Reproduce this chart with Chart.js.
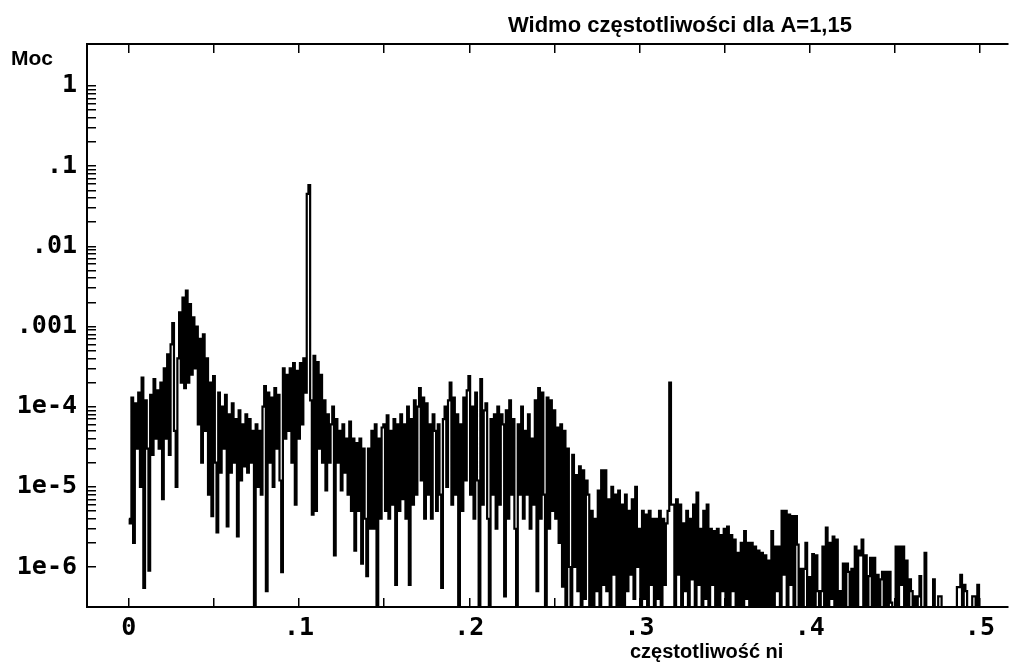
<!DOCTYPE html>
<html lang="pl">
<head>
<meta charset="utf-8">
<title>Widmo częstotliwości dla A=1,15</title>
<script src="https://cdn.jsdelivr.net/npm/chart.js@4.4.1/dist/chart.umd.min.js"></script>
<style>
  html, body { margin: 0; padding: 0; background: #fff; }
  #wrap { position: relative; width: 1010px; height: 666px; }
</style>
</head>
<body>
<div id="wrap"><canvas id="spectrum"></canvas></div>
<script>
const chartTitle = 'Widmo częstotliwości dla A=1,15';
const yTitle = 'Moc';
const xTitle = 'częstotliwość ni';

// frequency resolution of the spectrum (one value per bin, starting at 0)
const binWidth = 0.001;

// power, bins 0..99 (f = 0.000 .. 0.099)
const powerBand0 = [
  4e-6, 3.5e-6, 1.3e-4, 2e-6, 1.1e-4, 3e-5, 1.5e-4, 1e-5, 2.3e-4, 5.5e-7,
  1.2e-4, 3e-5, 9e-7, 1.4e-4, 2.5e-5, 2.2e-4, 4e-5, 1.6e-4, 3e-5, 2e-4,
  7e-6, 3e-4, 4e-5, 4.5e-4, 2.5e-5, 6e-4, 1.1e-3, 5e-5, 1e-5, 4e-4,
  1.5e-3, 2e-4, 2.3e-3, 1.7e-4, 2.8e-3, 2e-4, 1.9e-3, 2.5e-4, 1.3e-3, 3e-4,
  1e-3, 6e-5, 7e-4, 2e-5, 8e-4, 5e-5, 4e-4, 8e-6, 2e-4, 4.3e-6,
  2.4e-4, 2e-5, 2.7e-6, 1.5e-4, 1.5e-5, 1e-4, 3e-5, 1.4e-4, 3.2e-6, 8e-5,
  1.5e-5, 1.1e-4, 2e-5, 7e-5, 2.4e-6, 9e-5, 1.2e-5, 6e-5, 1.8e-5, 8e-5,
  1.5e-5, 7e-5, 2e-5, 5e-5, 1e-7, 6e-5, 1e-5, 5e-5, 8e-6, 1e-4,
  1.8e-4, 5e-7, 1.5e-4, 2e-5, 1.3e-4, 1e-5, 1.7e-4, 3e-5, 1.4e-4, 1.2e-5,
  8.6e-7, 3e-4, 4e-5, 2.5e-4, 5e-5, 3e-4, 2e-5, 3.5e-4, 6e-6, 2.8e-4
];
// bins 100..199
const powerBand1 = [
  4e-5, 3.5e-4, 6e-5, 4e-4, 1.5e-4, 0.045, 0.058, 1.2e-4, 4.5e-6, 4.3e-4,
  5e-6, 3.6e-4, 3e-5, 2.5e-4, 2e-5, 1.2e-4, 9e-6, 8e-5, 2e-5, 6e-5,
  1e-4, 1.4e-6, 7e-5, 2e-5, 5e-5, 9e-6, 6e-5, 1.5e-5, 4e-5, 8e-6,
  6.5e-5, 5e-6, 4e-5, 1.6e-6, 3.5e-5, 5e-6, 4e-5, 1.1e-6, 3e-5, 4e-6,
  7.7e-7, 3e-5, 3e-6, 5e-5, 3e-6, 6e-5, 1e-7, 4e-5, 4e-6, 5.5e-5,
  6e-5, 5e-6, 7.8e-5, 4e-6, 5e-5, 6e-6, 7e-5, 6e-7, 6e-5, 5e-6,
  8e-5, 7e-6, 6e-5, 4e-6, 1e-4, 6e-7, 7e-5, 6e-6, 1.2e-4, 8e-6,
  1e-4, 1.7e-4, 1.2e-5, 1.3e-4, 4e-6, 1.1e-4, 8e-6, 6e-5, 4e-6, 8e-5,
  5e-5, 5e-6, 6e-5, 8e-6, 5.5e-7, 7e-5, 1e-4, 1e-5, 1.2e-4, 2e-4,
  6e-6, 1.3e-4, 8e-6, 8e-5, 1e-7, 6e-5, 5e-6, 1.3e-4, 1.2e-5, 1.6e-4
];
// bins 200..299
const powerBand2 = [
  2.4e-4, 8e-6, 1e-4, 4e-6, 1.5e-4, 1.2e-5, 1e-7, 2.2e-4, 6e-6, 9e-5,
  1.1e-4, 4e-6, 1e-7, 7e-5, 8e-6, 8e-5, 3e-6, 1e-4, 6e-6, 8e-5,
  6e-5, 4.3e-7, 9e-5, 4e-6, 1.2e-4, 8e-6, 7e-5, 3e-6, 1e-7, 6e-5,
  8e-6, 1e-4, 4e-6, 5e-5, 8e-6, 8e-5, 3e-6, 4e-5, 6e-6, 1.2e-4,
  5e-7, 1.7e-4, 4e-6, 1.5e-4, 8e-6, 1e-7, 1.3e-4, 3e-6, 1.2e-4, 5e-6,
  9e-5, 4e-6, 5.5e-5, 2e-6, 6e-5, 5.7e-7, 5e-5, 1e-7, 3e-5, 1e-6,
  1e-7, 2.5e-5, 1e-6, 1.4e-5, 5e-7, 1.8e-5, 1e-7, 1.6e-5, 4e-7, 1.2e-5,
  8e-6, 3e-7, 5e-6, 1e-7, 4e-6, 5e-7, 9e-6, 1e-7, 1.6e-5, 6e-7,
  1.6e-5, 5e-7, 7e-6, 1e-7, 1e-5, 8e-7, 8e-6, 3e-7, 9e-6, 1e-7,
  6e-6, 1e-7, 8e-6, 5e-7, 5e-6, 8e-7, 7e-6, 4e-7, 1e-5, 1e-6
];
// bins 300..399
const powerBand3 = [
  3e-6, 1e-7, 5e-6, 4e-7, 4.5e-6, 1e-7, 5e-6, 6e-7, 4e-6, 2e-7,
  4e-6, 4e-7, 5e-6, 1e-7, 4e-6, 6e-7, 3.5e-6, 5e-6, 2e-4, 6e-6,
  6e-6, 3e-7, 7e-6, 8e-7, 6e-6, 1e-7, 3.5e-6, 5e-7, 5e-6, 1e-7,
  4e-6, 7e-7, 6e-6, 2e-7, 8.5e-6, 6e-7, 3e-6, 1e-7, 5e-6, 4e-7,
  6e-6, 2e-7, 3e-6, 6e-7, 2.8e-6, 1e-7, 3e-6, 2e-7, 2.5e-6, 5e-7,
  3e-6, 3e-7, 3.2e-6, 1e-7, 2.5e-6, 5e-7, 2.2e-6, 1e-7, 1.5e-6, 2e-7,
  2e-6, 1e-7, 2.8e-6, 4e-7, 2e-6, 1e-7, 2e-6, 3e-7, 1.8e-6, 1e-7,
  1.6e-6, 2e-7, 1.5e-6, 1e-7, 1.4e-6, 2e-7, 1.2e-6, 1e-7, 2.8e-6, 3e-7,
  1.8e-6, 5e-7, 1.8e-6, 1e-7, 5e-6, 8e-7, 5e-6, 1e-7, 4.5e-6, 6e-7,
  4.3e-6, 1e-7, 4.3e-6, 1.9e-6, 2e-7, 9.5e-7, 1e-7, 9.5e-7, 2e-6, 2e-7
];
// bins 400..500
const powerBand4 = [
  7.5e-7, 1e-7, 1.45e-6, 3e-7, 1.4e-6, 5e-7, 1e-7, 5e-7, 1.8e-6, 2e-7,
  3.1e-6, 1e-7, 2e-6, 4e-7, 2.4e-6, 1e-7, 2.2e-6, 3e-7, 5e-7, 1e-7,
  1.1e-6, 2e-7, 1.1e-6, 8.7e-7, 1e-7, 9.5e-7, 3e-7, 1.8e-6, 1e-7, 1.6e-6,
  1.4e-6, 2.2e-6, 1e-7, 1.4e-6, 3e-7, 7.7e-7, 1.3e-6, 1e-7, 1.3e-6, 2e-7,
  8e-7, 1e-7, 7e-7, 8.7e-7, 2e-7, 8.7e-7, 1e-7, 8.7e-7, 3.6e-7, 1e-7,
  1e-7, 1.8e-6, 2e-7, 1.8e-6, 6e-7, 1.8e-6, 1e-7, 1.2e-6, 3e-7, 7e-7,
  5e-7, 1e-7, 4.3e-7, 2e-7, 4.3e-7, 7.7e-7, 1e-7, 1e-7, 1.5e-6, 1e-7,
  1e-7, 1e-7, 1e-7, 7e-7, 1e-7, 1e-7, 4.3e-7, 4.3e-7, 1e-7, 1e-7,
  1e-7, 1e-7, 1e-7, 1e-7, 1e-7, 1e-7, 1e-7, 5.6e-7, 5.6e-7, 8e-7,
  1e-7, 6e-7, 5e-7, 1e-7, 1e-7, 1e-7, 4.3e-7, 4.3e-7, 1e-7, 6e-7,
  1e-7
];

const xTickValues = [0, 0.05, 0.1, 0.15, 0.2, 0.25, 0.3, 0.35, 0.4, 0.45, 0.5];
const xTickLabels = ['0', '', '.1', '', '.2', '', '.3', '', '.4', '', '.5'];
const yDecades = [1e-6, 1e-5, 1e-4, 1e-3, 0.01, 0.1, 1];
const yDecadeLabels = ['1e-6', '1e-5', '1e-4', '.001', '.01', '.1', '1'];
const yMinorSteps = [2, 3, 4, 5, 6, 7, 8, 9];

const power = [...powerBand0, ...powerBand1, ...powerBand2, ...powerBand3, ...powerBand4];
const points = power.map((p, i) => ({ x: i * binWidth, y: p }));

const yTickValues = [];
yDecades.forEach((d, k) => {
  yTickValues.push(d);
  if (k < yDecades.length - 1) yMinorSteps.forEach((m) => yTickValues.push(m * d));
});

const tickFont = { family: '"DejaVu Sans Mono", "Liberation Mono", monospace', size: 25, weight: 'bold' };
const axisGrid = { drawOnChartArea: false, drawTicks: true, tickLength: -9, color: '#000', lineWidth: 1.5 };
const axisBorder = { display: true, color: '#000', width: 2 };

const xMin = -0.0246;
const xMax = 0.5164;

const captions = {
  id: 'captions',
  afterDraw(chart) {
    const ctx = chart.ctx;
    ctx.save();
    ctx.fillStyle = '#000';
    ctx.textAlign = 'left';
    ctx.textBaseline = 'alphabetic';
    ctx.font = 'bold 22px "Liberation Sans", Arial, sans-serif';
    ctx.fillText(chartTitle, 508, 32);
    ctx.font = 'bold 21px "Liberation Sans", Arial, sans-serif';
    ctx.fillText(yTitle, 11, 65);
    ctx.font = 'bold 20px "Liberation Sans", Arial, sans-serif';
    ctx.fillText(xTitle, 630, 658);
    ctx.restore();
  }
};

new Chart(document.getElementById('spectrum'), {
  type: 'line',
  data: {
    datasets: [{
      data: points,
      borderColor: '#000',
      borderWidth: 2.2,
      pointRadius: 0,
      stepped: 'middle',
      fill: false,
      xAxisID: 'x',
      yAxisID: 'y'
    }]
  },
  options: {
    responsive: true,
    maintainAspectRatio: false,
    animation: false,
    devicePixelRatio: 1,
    layout: { padding: 0 },
    plugins: {
      legend: { display: false },
      tooltip: { enabled: false },
      title: { display: false }
    },
    scales: {
      x: {
        type: 'linear',
        position: 'bottom',
        min: xMin,
        max: xMax,
        grid: axisGrid,
        border: axisBorder,
        afterBuildTicks: (scale) => { scale.ticks = xTickValues.map((v) => ({ value: v })); },
        afterFit: (scale) => { scale.height = 59; },
        ticks: {
          autoSkip: false,
          maxRotation: 0,
          padding: 15,
          color: '#000',
          font: tickFont,
          callback: (value, index) => xTickLabels[index]
        }
      },
      xTop: {
        type: 'linear',
        position: 'top',
        min: xMin,
        max: xMax,
        grid: axisGrid,
        border: axisBorder,
        afterBuildTicks: (scale) => { scale.ticks = xTickValues.map((v) => ({ value: v })); },
        afterFit: (scale) => { scale.height = 44; },
        ticks: { autoSkip: false, maxRotation: 0, callback: () => '' }
      },
      y: {
        type: 'logarithmic',
        position: 'left',
        min: 3.17e-7,
        max: 3.34,
        grid: axisGrid,
        border: axisBorder,
        afterBuildTicks: (scale) => { scale.ticks = yTickValues.map((v) => ({ value: v })); },
        afterFit: (scale) => { scale.width = 87; },
        ticks: {
          autoSkip: false,
          padding: 19,
          color: '#000',
          font: tickFont,
          callback: (value) => {
            const k = yDecades.findIndex((d) => Math.abs(value / d - 1) < 1e-9);
            return k >= 0 ? yDecadeLabels[k] : '';
          }
        }
      }
    }
  },
  plugins: [captions]
});
</script>
</body>
</html>
